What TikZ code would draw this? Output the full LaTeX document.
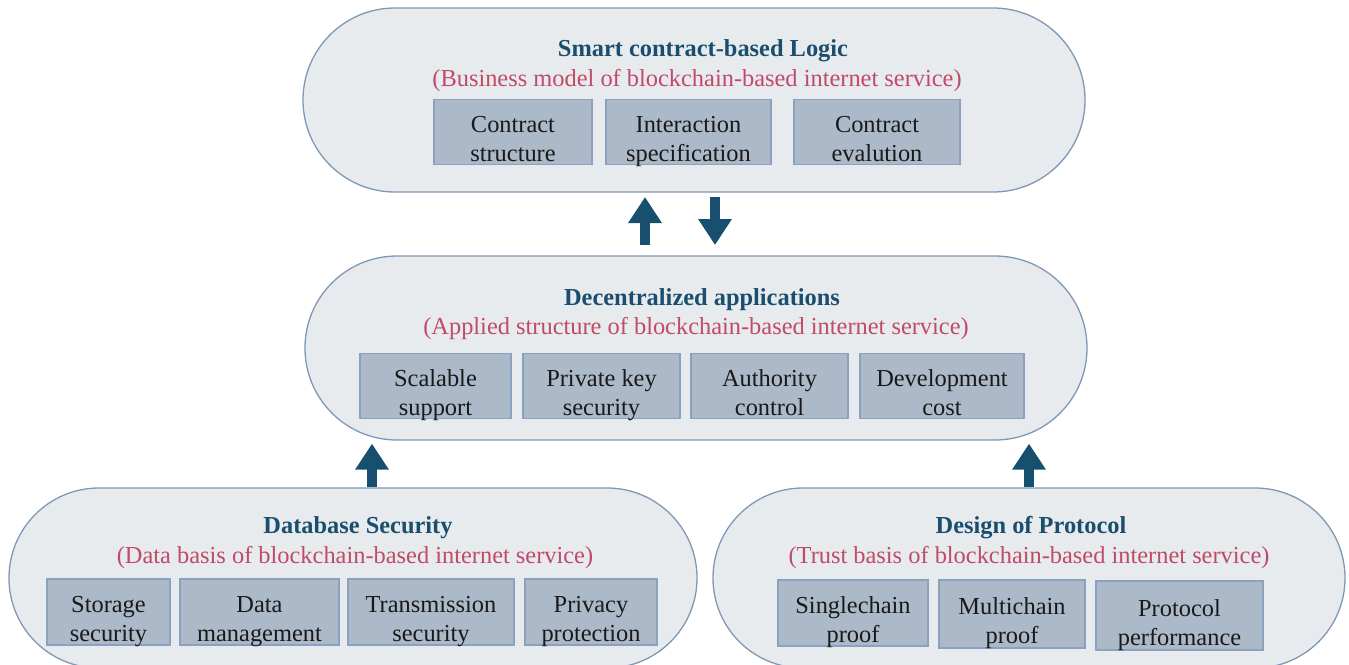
\documentclass[tikz,border=0pt]{standalone}
\usepackage{fontspec}
\setmainfont{Liberation Serif}
\usetikzlibrary{arrows.meta}
\definecolor{pillfill}{HTML}{E7EBEE}
\definecolor{pilldraw}{HTML}{7F98B5}
\definecolor{boxfill}{HTML}{ABB9C9}
\definecolor{boxdraw}{HTML}{8AA2BF}
\definecolor{titlecol}{HTML}{1B4E6E}
\definecolor{subcol}{HTML}{C04A68}
\definecolor{arrowcol}{HTML}{174F6E}
\tikzset{
  pill/.style={draw=pilldraw, fill=pillfill, line width=1.3pt, inner sep=0pt},
  itembox/.style={draw=boxdraw, fill=boxfill, line width=1.2pt, inner sep=0pt, align=center,
    font=\fontsize{24.4}{29}\selectfont, text=black!90, text height=62pt, text depth=3pt},
  ttl/.style={font=\fontsize{24.4}{28}\selectfont\bfseries, text=titlecol, inner sep=0pt},
  sub/.style={font=\fontsize{24.4}{28}\selectfont, text=subcol, inner sep=0pt},
  bigarrow/.style={draw=arrowcol, line width=10pt, -{Triangle[width=32pt,length=26pt]}}
}
\begin{document}
\begin{tikzpicture}[x=1pt,y=-1pt]
\useasboundingbox (0,0) rectangle (1349,664);
% pills
\node[pill, minimum width=782pt, minimum height=184pt, rounded corners=91.9pt] (top) at (694,100) {};
\node[pill, minimum width=782pt, minimum height=184pt, rounded corners=91.9pt] (mid) at (696,348) {};
\node[pill, minimum width=688pt, minimum height=180pt, rounded corners=89.9pt] (bl) at (353,578) {};
\node[pill, minimum width=632pt, minimum height=180pt, rounded corners=89.9pt] (br) at (1029,578) {};
% titles
\node[ttl] (toptitle) at (703,51) {Smart contract-based Logic};
\node[sub] (topsub) at (697,81) {(Business model of blockchain-based internet service)};
\node[ttl] (midtitle) at (702,300) {Decentralized applications};
\node[sub] (midsub) at (696,329) {(Applied structure of blockchain-based internet service)};
\node[ttl] (bltitle) at (358,528) {Database Security};
\node[sub] (blsub) at (355,557) {(Data basis of blockchain-based internet service)};
\node[ttl] (brtitle) at (1031,528) {Design of Protocol};
\node[sub] (brsub) at (1029,557) {(Trust basis of blockchain-based internet service)};
% top boxes
\node[itembox, minimum width=158pt, minimum height=64pt] (t1) at (513,132) {Contract\\structure};
\node[itembox, minimum width=165pt, minimum height=64pt] (t2) at (688.5,132) {Interaction\\specification};
\node[itembox, minimum width=166pt, minimum height=64pt] (t3) at (877,132) {Contract\\evalution};
% middle boxes
\node[itembox, minimum width=151pt, minimum height=64pt] (m1) at (435.5,386) {Scalable\\support};
\node[itembox, minimum width=157pt, minimum height=64pt] (m2) at (601.5,386) {Private key\\security};
\node[itembox, minimum width=157pt, minimum height=64pt] (m3) at (769.5,386) {Authority\\control};
\node[itembox, minimum width=164pt, minimum height=64pt] (m4) at (942,386) {Development\\cost};
% bottom-left boxes
\node[itembox, minimum width=123pt, minimum height=66pt] (b1) at (108.5,612) {Storage\\security};
\node[itembox, minimum width=159pt, minimum height=66pt] (b2) at (259.5,612) {Data\\management};
\node[itembox, minimum width=166pt, minimum height=66pt] (b3) at (431,612) {Transmission\\security};
\node[itembox, minimum width=132pt, minimum height=66pt] (b4) at (591,612) {Privacy\\protection};
% bottom-right boxes
\node[itembox, minimum width=150pt, minimum height=66pt] (r1) at (853,613) {Singlechain\\proof};
\node[itembox, minimum width=146pt, minimum height=68pt] (r2) at (1012,614) {Multichain\\proof};
\node[itembox, minimum width=167pt, minimum height=69pt] (r3) at (1179.5,615.5) {Protocol\\performance};
% arrows
\coordinate (a1s) at (645,245); \coordinate (a1e) at (645,197);
\coordinate (a2s) at (715,197); \coordinate (a2e) at (715,245);
\draw[bigarrow] (a1s) -- (a1e);
\draw[bigarrow] (a2s) -- (a2e);
\draw[bigarrow] (bl.north -| 372,0) -- ([yshift=-3pt]mid.south -| 372,0);
\draw[bigarrow] (br.north -| 1029,0) -- ([yshift=-3pt]mid.south -| 1029,0);
\end{tikzpicture}
\end{document}
